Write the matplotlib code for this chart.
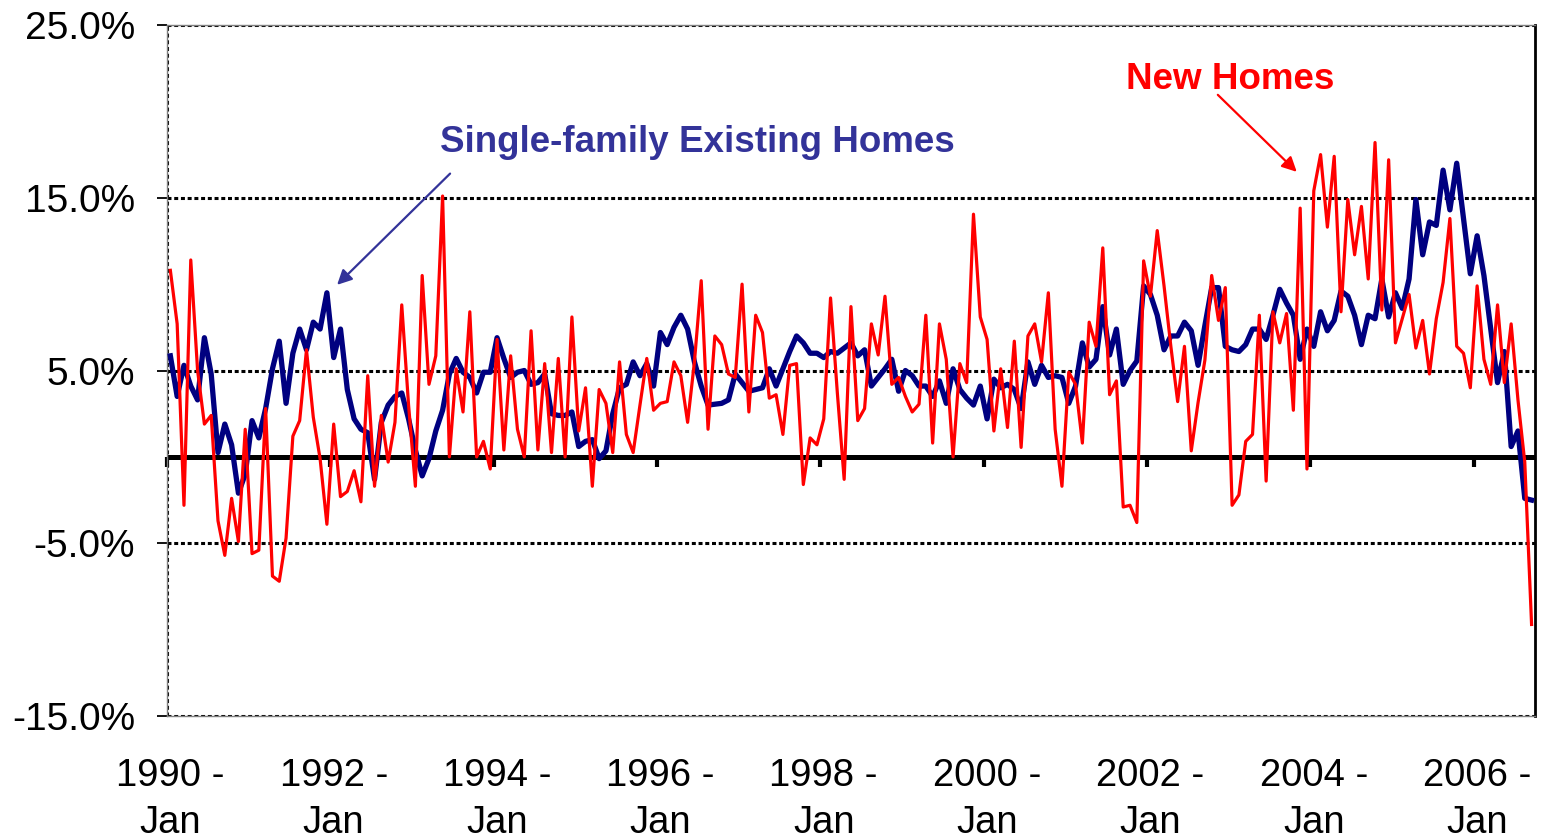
import numpy as np
import matplotlib.pyplot as plt

# ============================
# data: monthly yoy change, 1990 Jan .. 2006 Sep (%)
# ============================
existing_homes = [
    5.85, 3.5, 5.3, 4.1, 3.3, 6.9, 4.8, 0.25, 1.9, 0.7,
    -2.1, -1.0, 2.1, 1.1, 2.8, 5.1, 6.7, 3.1, 6.0, 7.4,
    6.2, 7.8, 7.4, 9.5, 5.75, 7.4, 3.9, 2.2, 1.6, 1.4,
    -1.3, 2.0, 3.0, 3.5, 3.7, 2.2, 0.4, -1.1, -0.1, 1.5,
    2.7, 4.8, 5.7, 4.9, 4.6, 3.7, 4.9, 4.9, 6.9, 5.7,
    4.6, 4.9, 5.0, 4.2, 4.3, 4.8, 2.5, 2.4, 2.4, 2.6,
    0.6, 0.9, 1.0, -0.1, 0.35, 2.5, 4.0, 4.2, 5.5, 4.7,
    5.4, 4.1, 7.2, 6.5, 7.5, 8.2, 7.4, 5.5, 4.1, 3.0,
    3.05, 3.1, 3.3, 4.8, 4.3, 3.8, 3.9, 4.0, 5.1, 4.1,
    5.1, 6.1, 7.0, 6.6, 6.0, 6.0, 5.75, 6.1, 6.0, 6.3,
    6.6, 5.85, 6.2, 4.1, 4.6, 5.1, 5.65, 3.8, 5.0, 4.7,
    4.1, 4.1, 3.5, 4.4, 3.1, 5.1, 3.9, 3.4, 3.0, 4.1,
    2.2, 4.5, 4.0, 4.2, 3.9, 2.8, 5.5, 4.2, 5.3, 4.6,
    4.7, 4.6, 3.1, 4.1, 6.6, 5.2, 5.65, 8.7, 5.9, 7.4,
    4.2, 5.0, 5.55, 9.9, 9.4, 8.2, 6.2, 7.0, 7.0, 7.8,
    7.3, 5.3, 7.6, 9.8, 9.8, 6.4, 6.2, 6.1, 6.5, 7.4,
    7.4, 6.8, 8.2, 9.7, 8.9, 8.2, 5.65, 7.4, 6.4, 8.4,
    7.3, 7.9, 9.6, 9.3, 8.2, 6.5, 8.2, 8.0, 10.3, 8.1,
    9.5, 8.6, 10.3, 14.9, 11.7, 13.6, 13.4, 16.6, 14.3, 17.0,
    13.8, 10.6, 12.8, 10.5, 7.4, 4.3, 6.1, 0.6, 1.5, -2.4,
    -2.5,
]

new_homes = [
    10.8, 7.7, -2.8, 11.4, 5.0, 1.9, 2.4, -3.7, -5.7, -2.4,
    -4.9, 1.6, -5.6, -5.4, 2.8, -6.9, -7.2, -4.7, 1.2, 2.1,
    6.2, 2.3, -0.1, -3.9, 1.9, -2.3, -2.0, -0.8, -2.6, 4.7,
    -1.7, 2.4, -0.3, 2.0, 8.8, 3.0, -1.7, 10.5, 4.2, 5.85,
    15.1, 0.0, 5.1, 2.6, 8.4, 0.0, 0.9, -0.7, 6.8, 0.4,
    5.85, 1.6, 0.0, 7.3, 0.4, 5.4, 0.25, 5.7, 0.0, 8.1,
    1.5, 4.0, -1.7, 3.9, 3.1, 0.25, 5.5, 1.3, 0.25, 3.0,
    5.7, 2.7, 3.1, 3.2, 5.5, 4.7, 2.0, 5.5, 10.2, 1.6,
    7.0, 6.5, 4.8, 4.6, 10.0, 2.6, 8.2, 7.2, 3.4, 3.6,
    1.3, 5.3, 5.4, -1.6, 1.1, 0.7, 2.2, 9.2, 3.7, -1.3,
    8.7, 2.1, 2.8, 7.7, 5.9, 9.3, 4.2, 4.6, 3.5, 2.6,
    3.05, 8.2, 0.8, 7.7, 5.65, 0.0, 5.4, 4.3, 14.05, 8.1,
    6.8, 1.5, 5.1, 1.7, 6.7, 0.55, 7.0, 7.7, 5.5, 9.5,
    1.6, -1.7, 4.9, 4.2, 0.8, 7.8, 6.4, 12.1, 3.6, 4.4,
    -2.9, -2.8, -3.8, 11.35, 9.3, 13.1, 9.9, 6.4, 3.2, 6.4,
    0.35, 3.15, 5.6, 10.5, 7.9, 9.8, -2.8, -2.2, 0.9, 1.3,
    8.2, -1.4, 8.4, 6.6, 8.3, 2.7, 14.4, -0.7, 15.4, 17.5,
    13.3, 17.4, 8.4, 14.9, 11.7, 14.5, 10.3, 18.2, 8.5, 17.2,
    6.6, 8.0, 9.4, 6.3, 7.9, 4.8, 8.0, 10.1, 13.8, 6.4,
    6.0, 4.0, 9.9, 5.65, 4.2, 8.8, 4.3, 7.7, 3.3, -0.3,
    -9.7,
]

x_labels = ["1990 -\nJan", "1992 -\nJan", "1994 -\nJan", "1996 -\nJan",
            "1998 -\nJan", "2000 -\nJan", "2002 -\nJan", "2004 -\nJan",
            "2006 -\nJan"]
y_ticks = [-15, -5, 5, 15, 25]

NAVY = "#000080"
RED = "#FF0000"
LABEL_BLUE = "#333399"
DOTS = (0, (1.3, 0.9))

plt.rcParams['font.family'] = ['Liberation Sans', 'DejaVu Sans']

fig = plt.figure(figsize=(15.43, 8.4), dpi=100)
ax = fig.add_axes([0.1082, 0.1476, 0.8866, 0.8226])

x = np.arange(len(existing_homes))
n = len(existing_homes)

# dotted gridlines (also form the top / bottom frame)
for v in y_ticks:
    ax.axhline(v, color="black", lw=2.2, linestyle=DOTS, zorder=1)
ax.axvline(-0.5, color="black", lw=2.2, linestyle=DOTS, zorder=1)

ax.axhline(0, color="black", lw=3.6, zorder=2)
ax.plot(x, existing_homes, color=NAVY, lw=3.8, zorder=3)
ax.plot(x, new_homes, color=RED, lw=2.3, zorder=4)

ax.set_xlim(-0.5, n - 0.5)
ax.set_ylim(-15, 25)

# y axis
ax.set_yticks(y_ticks)
ax.set_yticklabels([f"{v:.1f}%" for v in y_ticks], fontsize=28)
ax.tick_params(axis="y", direction="out", length=7, width=1.3, pad=16)

# x labels at the bottom, tick marks on the zero line
ax.set_xticks(np.arange(0, n, 24))
ax.set_xticklabels(x_labels, fontsize=27.5, linespacing=1.4)
ax.tick_params(axis="x", length=0, pad=30)

sec = ax.secondary_xaxis(15 / 40)
sec.set_xticks(np.arange(0, n, 24) - 0.5)
sec.set_xticklabels([])
sec.tick_params(axis="x", direction="out", length=7.5, width=3.0, color="black")
sec.spines["bottom"].set_visible(False)

# frame
for side in ["left", "top", "bottom"]:
    ax.spines[side].set_color("#808080")
    ax.spines[side].set_linewidth(1.0)
ax.spines["right"].set_color("black")
ax.spines["right"].set_linewidth(2.0)

# annotations
ax.text(77.4, 18.2, "Single-family Existing Homes", color=LABEL_BLUE,
        fontsize=26.5, fontweight="bold", ha="center", va="center")
ax.annotate("", xy=(24.5, 9.96), xytext=(41.1, 16.4),
            arrowprops=dict(arrowstyle="-|>", color=LABEL_BLUE, lw=1.6,
                            mutation_scale=22, shrinkA=0, shrinkB=0))
ax.text(155.7, 21.85, "New Homes", color=RED,
        fontsize=26.5, fontweight="bold", ha="center", va="center")
ax.annotate("", xy=(165.5, 16.5), xytext=(153.9, 20.96),
            arrowprops=dict(arrowstyle="-|>", color=RED, lw=1.6,
                            mutation_scale=22, shrinkA=0, shrinkB=0))

fig.savefig("out.png", dpi=100)
